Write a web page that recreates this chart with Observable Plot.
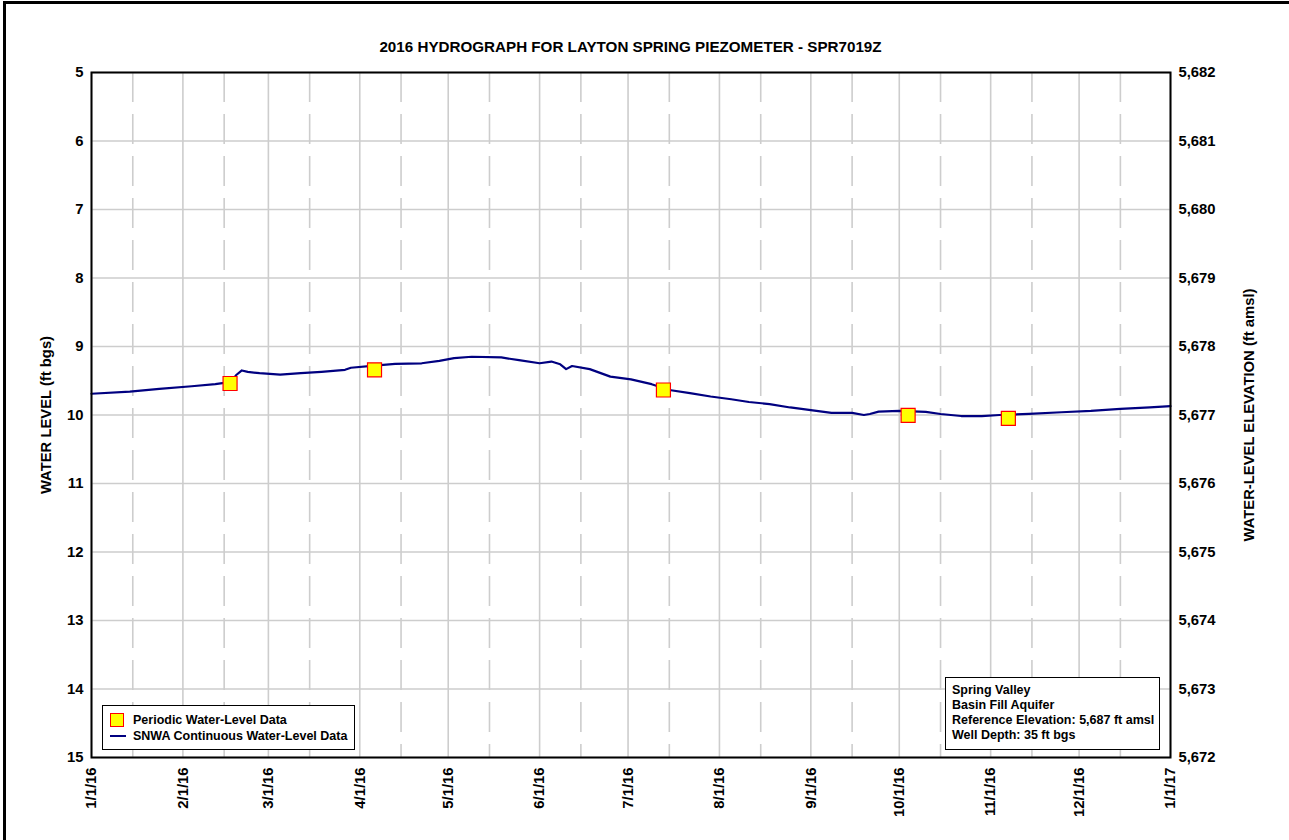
<!DOCTYPE html>
<html>
<head>
<meta charset="utf-8">
<script src="https://cdn.jsdelivr.net/npm/d3@7"></script>
<script src="https://cdn.jsdelivr.net/npm/@observablehq/plot@0.6"></script>
<style>
  body { margin: 0; background: #fff; font-family: "Liberation Sans", Arial, sans-serif; }
  #wrap { position: relative; width: 1289px; height: 840px; overflow: hidden; background: #fff; }
  #wrap svg { position: absolute; left: 0; top: 0; }
  .pageframe { position: absolute; left: 3px; top: 1px; width: 1300px; height: 860px; border-top: 3px solid #000; border-left: 3px solid #000; }
  #title { position: absolute; left: 91px; width: 1079px; top: 38px; text-align: center; font-weight: bold; font-size: 15.2px; color: #000; }
  .box { position: absolute; box-sizing: border-box; background: #fff; border: 1.5px solid #000; font-weight: bold; font-size: 12.5px; color: #000; }
  #legend { left: 102px; top: 705px; width: 253px; height: 45px; }
  .lrow { position: absolute; left: 0; height: 16px; line-height: 16px; white-space: nowrap; }
  .sq { position: absolute; left: 7px; width: 14px; height: 14px; box-sizing: border-box; background: #ffff00; border: 1.2px solid #ff0000; }
  .ln { position: absolute; left: 7px; width: 16px; height: 2px; background: #000080; }
  #info { left: 945px; top: 677px; width: 215px; height: 73px; padding: 5px 0 0 6px; line-height: 15px; white-space: nowrap; }
</style>
</head>
<body>
<div id="wrap">
  <div class="pageframe"></div>
  <div id="title"></div>
</div>
<script>
// ---------------- DATA ----------------
const chartTitle = "2016 HYDROGRAPH FOR LAYTON SPRING PIEZOMETER - SPR7019Z";
const leftLabel = "WATER LEVEL (ft bgs)";
const rightLabel = "WATER-LEVEL ELEVATION (ft amsl)";
const referenceElevation = 5687;

// Continuous water-level record (ft bgs)
const lineDates = [
  "2016-01-01","2016-01-14","2016-01-24","2016-02-04","2016-02-12","2016-02-15","2016-02-18","2016-02-19",
  "2016-02-21","2016-02-23","2016-02-27","2016-03-05","2016-03-12","2016-03-19","2016-03-27","2016-03-29",
  "2016-04-06","2016-04-13","2016-04-22","2016-04-28","2016-05-03","2016-05-09","2016-05-19","2016-05-25",
  "2016-06-01","2016-06-05","2016-06-08","2016-06-10","2016-06-12","2016-06-18","2016-06-25","2016-07-02",
  "2016-07-09","2016-07-15","2016-07-22","2016-07-29","2016-08-05","2016-08-11","2016-08-18","2016-08-25",
  "2016-09-01","2016-09-08","2016-09-15","2016-09-19","2016-09-21","2016-09-24","2016-10-01","2016-10-10",
  "2016-10-15","2016-10-22","2016-10-29","2016-11-04","2016-11-14","2016-11-25","2016-12-05","2016-12-15",
  "2016-12-25","2017-01-01"
];
const lineLevels = [
  9.69, 9.66, 9.62, 9.58, 9.55, 9.53, 9.48, 9.42,
  9.35, 9.37, 9.39, 9.41, 9.39, 9.37, 9.34, 9.31,
  9.28, 9.255, 9.245, 9.21, 9.17, 9.15, 9.16, 9.20,
  9.245, 9.22, 9.26, 9.33, 9.285, 9.33, 9.44, 9.48,
  9.55, 9.635, 9.68, 9.73, 9.77, 9.81, 9.84, 9.89,
  9.93, 9.97, 9.97, 10.0, 9.985, 9.95, 9.94, 9.955,
  9.985, 10.015, 10.015, 10.0, 9.985, 9.96, 9.94, 9.91,
  9.89, 9.87
];

// Periodic (manual) measurements (ft bgs)
const periodicDates = ["2016-02-17","2016-04-06","2016-07-13","2016-10-04","2016-11-07"];
const periodicLevels = [9.54, 9.34, 9.635, 10.005, 10.05];

// Axis ticks
const monthTicks = ["2016-01-01","2016-02-01","2016-03-01","2016-04-01","2016-05-01","2016-06-01","2016-07-01",
  "2016-08-01","2016-09-01","2016-10-01","2016-11-01","2016-12-01","2017-01-01"];
const midMonthTicks = ["2016-01-15","2016-02-15","2016-03-15","2016-04-15","2016-05-15","2016-06-15",
  "2016-07-15","2016-08-15","2016-09-15","2016-10-15","2016-11-15","2016-12-15"];
const levelTicks = [5, 6, 7, 8, 9, 10, 11, 12, 13, 14, 15];

const legendLabels = ["Periodic Water-Level Data", "SNWA Continuous Water-Level Data"];
const infoLines = ["Spring Valley", "Basin Fill Aquifer", "Reference Elevation: 5,687 ft amsl", "Well Depth: 35 ft bgs"];

// ---------------- BUILD ----------------
const parse = d3.utcParse("%Y-%m-%d");
const lineData = lineDates.map((d, i) => ({date: parse(d), level: lineLevels[i]}));
const pointData = periodicDates.map((d, i) => ({date: parse(d), level: periodicLevels[i]}));
const months = monthTicks.map(parse);
const mids = midMonthTicks.map(parse);
const fmtComma = d3.format(",");

const gridColor = "#cdcdcd";
const fontFamily = "'Liberation Sans', Arial, Helvetica, sans-serif";

const chart = Plot.plot({
  width: 1289,
  height: 840,
  marginLeft: 91,
  marginRight: 119,
  marginTop: 72,
  marginBottom: 83,
  style: {fontFamily, fontSize: "14.8px", fontWeight: "bold", color: "#000", background: "transparent"},
  x: {type: "utc", domain: [months[0], months[months.length - 1]]},
  y: {domain: [5, 15], reverse: true},
  marks: [
    Plot.ruleY(levelTicks, {stroke: gridColor, strokeWidth: 1.6}),
    Plot.ruleX(months, {stroke: gridColor, strokeWidth: 1.6}),
    Plot.ruleX(mids, {stroke: gridColor, strokeWidth: 1.6, strokeDasharray: "30,12"}),
    Plot.axisY({anchor: "left", ticks: levelTicks, tickSize: 0, tickPadding: 8,
      label: leftLabel, labelAnchor: "center", labelArrow: "none", labelOffset: 51}),
    Plot.axisY({anchor: "right", ticks: levelTicks, tickSize: 0, tickPadding: 8,
      tickFormat: d => fmtComma(referenceElevation - d),
      label: rightLabel, labelAnchor: "center", labelArrow: "none", labelOffset: 83}),
    Plot.axisX({anchor: "bottom", ticks: months, tickFormat: d3.utcFormat("%-m/%-d/%y"),
      tickRotate: -90, tickSize: 0, tickPadding: 10, label: null}),
    Plot.lineY(lineData, {x: "date", y: "level", stroke: "#000080", strokeWidth: 2.2}),
    Plot.dot(pointData, {x: "date", y: "level", symbol: "square", r: 7.9,
      fill: "#ffff00", stroke: "#ff0000", strokeWidth: 1.2}),
    Plot.frame({stroke: "#000", strokeWidth: 2})
  ]
});

const wrap = document.getElementById("wrap");
wrap.insertBefore(chart, wrap.firstChild);
document.getElementById("title").textContent = chartTitle;

// Legend box
const legend = document.createElement("div");
legend.className = "box";
legend.id = "legend";
legend.innerHTML =
  `<div class="sq" style="top:7px"></div>` +
  `<div class="lrow" style="left:30px;top:6px">${legendLabels[0]}</div>` +
  `<div class="ln" style="top:29px"></div>` +
  `<div class="lrow" style="left:30px;top:22px">${legendLabels[1]}</div>`;
wrap.appendChild(legend);

// Info box
const info = document.createElement("div");
info.className = "box";
info.id = "info";
info.innerHTML = infoLines.map(t => `<div>${t}</div>`).join("");
wrap.appendChild(info);
</script>
</body>
</html>
